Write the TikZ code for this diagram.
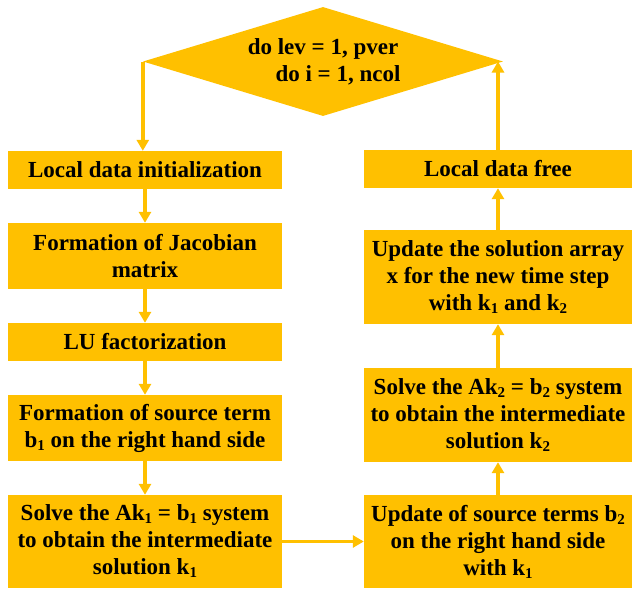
\documentclass[tikz,border=0pt]{standalone}
\usepackage{fontspec}
\setmainfont{Liberation Serif}
\usetikzlibrary{shapes.geometric,arrows.meta}
\definecolor{gold}{HTML}{FFC000}
\def\lcol{145}
\def\rcol{498}
\def\sub#1{\raisebox{-3pt}{\fontsize{15}{15}\selectfont #1}}

\begin{document}
\begin{tikzpicture}[x=1pt,y=-1pt,
        box/.style={fill=gold,inner sep=0pt,align=center,
                font=\bfseries\fontsize{23}{27}\selectfont},
        lbox/.style={box,minimum width=274pt},
        rbox/.style={box,minimum width=268pt},
        link/.style={draw=gold,line width=3.5pt,-{Triangle[width=12pt,length=11pt]}}]
        \useasboundingbox (0,0) rectangle (633,590);
        % loop header
        \node[box,shape=diamond,aspect=3.3,minimum width=360pt,minimum height=109pt]
                (loop) at (323,61.5) {do lev = 1, pver\\\hspace*{30pt}do i = 1, ncol};
        % left column
        \node[lbox,minimum height=38pt] (init) at (\lcol,170) {Local data initialization};
        \node[lbox,minimum height=66pt] (jacob) at (\lcol,256) {Formation of Jacobian\\matrix};
        \node[lbox,minimum height=38pt] (lufac) at (\lcol,342) {LU factorization};
        \node[lbox,minimum height=66pt] (srcone) at (\lcol,428) {Formation of source term\\b\sub{1} on the right hand side};
        \node[lbox,minimum height=93pt] (solveone) at (\lcol,541.5) {Solve the Ak\sub{1} = b\sub{1} system\\to obtain the intermediate\\solution k\sub{1}};
        % right column
        \node[rbox,minimum height=93pt] (srctwo) at (\rcol,541.5) {Update of source terms b\sub{2}\\on the right hand side\\with k\sub{1}};
        \node[rbox,minimum height=94pt] (solvetwo) at (\rcol,415) {Solve the Ak\sub{2} = b\sub{2} system\\to obtain the intermediate\\solution k\sub{2}};
        \node[rbox,minimum height=94pt] (update) at (\rcol,277) {Update the solution array\\x for the new time step\\with k\sub{1} and k\sub{2}};
        \node[rbox,minimum height=38pt] (free) at (\rcol,169) {Local data free};
        % connectors
        \draw[link] (loop.west) -- (loop.west |- init.north);
        \draw[link] (init) -- (jacob);
        \draw[link] (jacob) -- (lufac);
        \draw[link] (lufac) -- (srcone);
        \draw[link] (srcone) -- (solveone);
        \draw[link] (solveone) -- (srctwo);
        \draw[link] (srctwo) -- (solvetwo);
        \draw[link] (solvetwo) -- (update);
        \draw[link] (update) -- (free);
        \draw[link] (free.north) -- (free.north |- loop.east);
\end{tikzpicture}
\end{document}
